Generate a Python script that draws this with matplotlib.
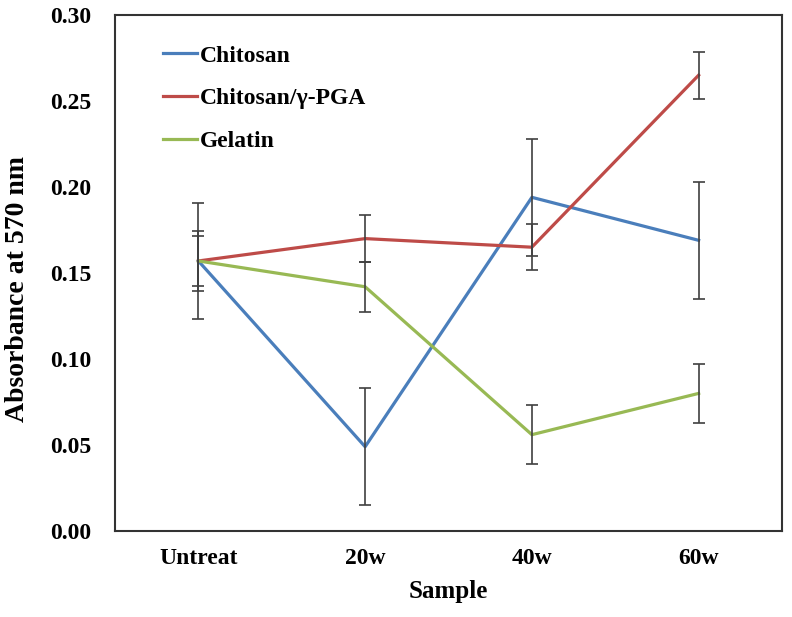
import numpy as np
from matplotlib import pyplot as plt

samples = ['Untreat', '20w', '40w', '60w']
chitosan = [0.157, 0.049, 0.194, 0.169]
chitosan_err = [0.0335, 0.034, 0.034, 0.034]
pga = [0.157, 0.170, 0.165, 0.265]
pga_err = [0.0145, 0.0135, 0.0135, 0.0137]
gelatin = [0.157, 0.142, 0.056, 0.080]
gelatin_err = [0.0175, 0.0145, 0.017, 0.017]

plt.rc('font', family='Liberation Serif', weight='bold')
fig = plt.figure(figsize=(7.92, 6.17), dpi=100)
ax = fig.add_axes([115/792, 1-531/617, (782-115)/792, (531-15)/617])

x = np.arange(len(samples))
series = [(chitosan, chitosan_err, '#4a7ebb', 'Chitosan'),
          (pga, pga_err, '#be4b48', 'Chitosan/\u03b3-PGA'),
          (gelatin, gelatin_err, '#98b954', 'Gelatin')]
for y, e, c, lab in series:
    ax.plot(x, y, '-', color=c, lw=2.3, label=lab, zorder=3)
for y, e, c, lab in series:
    ax.errorbar(x, y, yerr=e, fmt='none', ecolor='#404040', elinewidth=1.2,
                capsize=4, capthick=1.2, zorder=4)

ax.set_xlim(-0.5, 3.5)
ax.set_ylim(0, 0.30)
ax.set_xticks(x)
ax.set_xticklabels(samples)
ax.set_yticks(np.arange(0, 0.31, 0.05))
ax.set_yticklabels(['%.2f' % v for v in np.arange(0, 0.31, 0.05)])
ax.tick_params(length=0, labelsize=17)
ax.tick_params(axis='y', pad=17)
ax.tick_params(axis='x', pad=12)
for s in ax.spines.values():
    s.set_linewidth(1.5)
    s.set_color('#333333')
ax.set_xlabel('Sample', fontsize=18, fontweight='bold', labelpad=8)
ax.set_ylabel('Absorbance at 570 nm', fontsize=20, fontweight='bold')
ax.yaxis.set_label_coords(-0.128, 0.469)

leg = fig.legend(loc='upper left', bbox_to_anchor=(163/792, 1-45/617),
                 frameon=False, fontsize=17, handlelength=1.45,
                 handletextpad=0.1, labelspacing=0.9, borderpad=0,
                 borderaxespad=0)
plt.savefig('out.png', dpi=100)
